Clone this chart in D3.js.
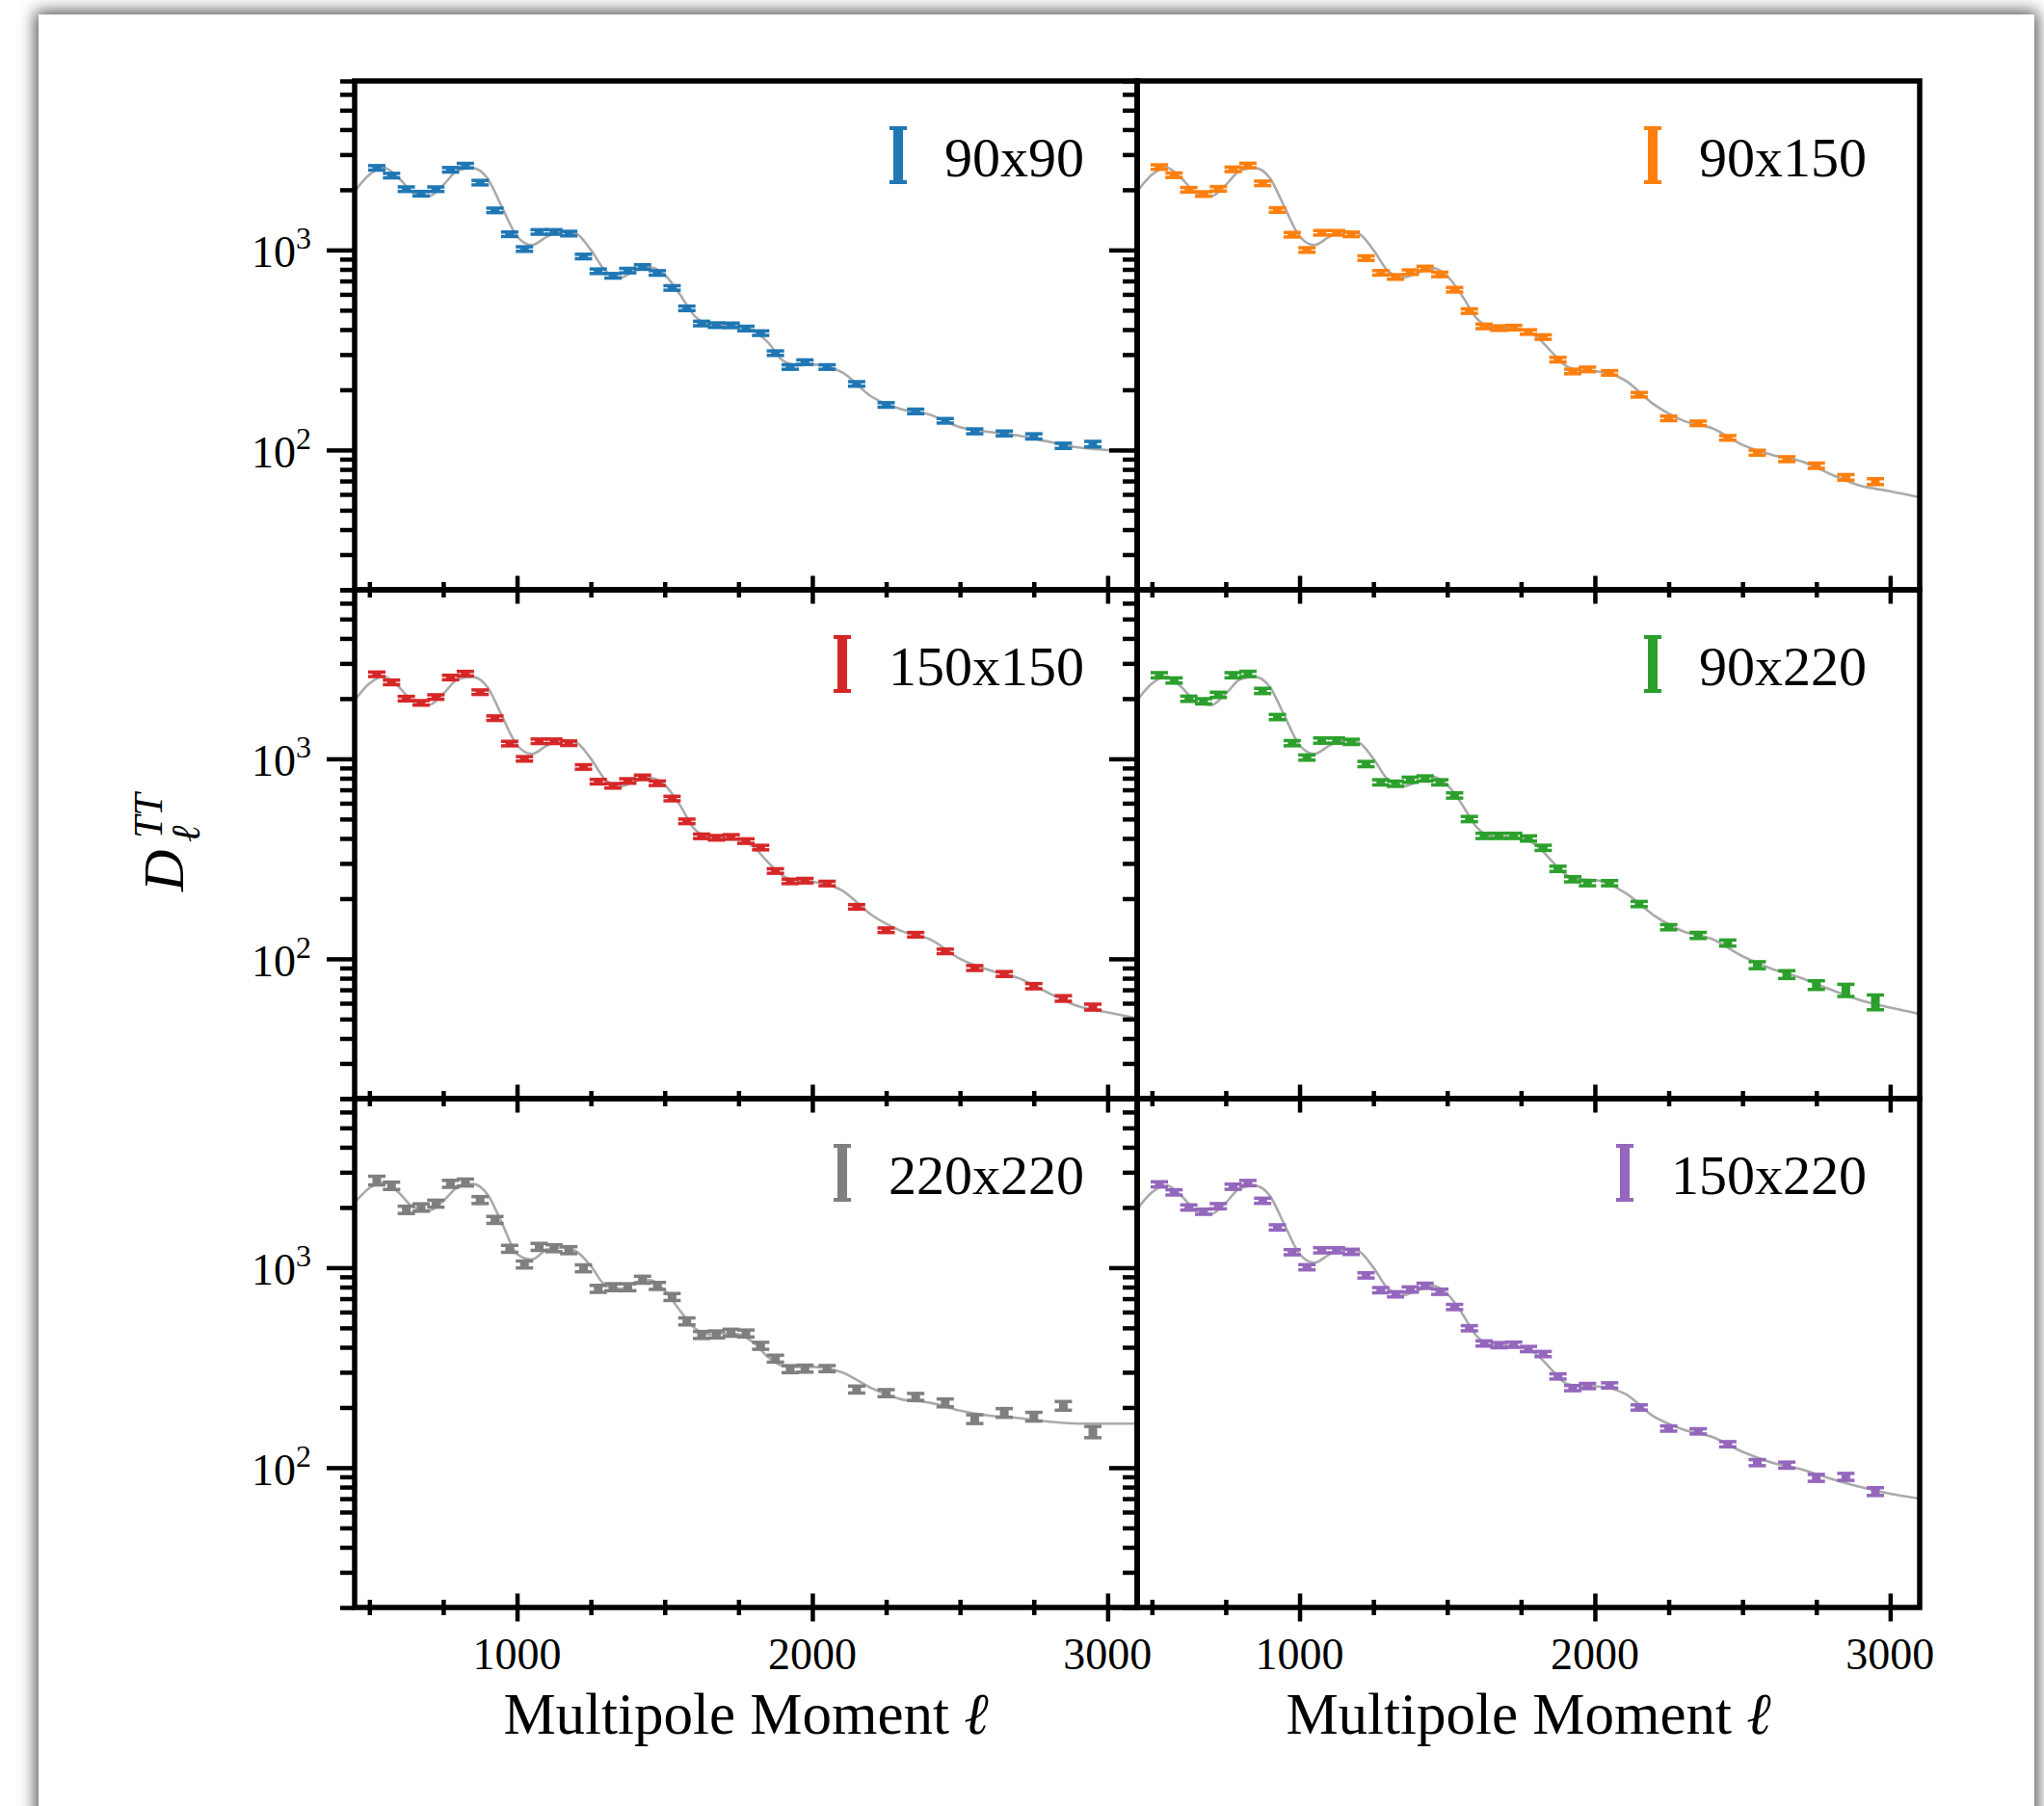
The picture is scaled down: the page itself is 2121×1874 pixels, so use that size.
<!DOCTYPE html>
<meta charset="utf-8" />
<script src="https://d3js.org/d3.v7.min.js"></script>

<body style="margin:0;background:#fff;overflow:hidden">

<div id="card" style="position:absolute;left:40px;top:15px;width:2071px;height:1950px;background:#fff;box-shadow:0 0 16px 3px rgba(0,0,0,.7)"></div>
<svg id="chart" width="2121" height="1874" style="position:absolute;left:0;top:0"></svg>

<script>
/* ── DATA ── */
const labels  = ["90x90","90x150","150x150","90x220","220x220","150x220"];
const colours = ["#1f77b4","#ff7f0e","#d62728","#2ca02c","#7f7f7f","#9467bd"];

// bin centres (multipole)
const ell = [525,575,625,675,725,775,825,875,925,975,1025,1075,1125,1175,1225,1275,1325,1375,1425,1475,
             1525,1575,1625,1675,1725,1775,1825,1875,1925,1975,2050,2150,2250,2350,2450,2550,2650,2750,2850,2950];

// band powers D_ell^TT
const d90x90   = [2574,2355,2014,1912,2014,2518,2641,2171,1578,1199,1011,1231,1231,1208,928,783,743,789,822,768,
                  646,511,429,421,420,405,384,305,260,275,260,214,168,156,140,124,121,117,105,107];
const d90x150  = [2598,2366,2000,1905,2022,2531,2647,2154,1585,1192,1000,1219,1219,1197,911,769,733,775,808,755,
                  633,495,415,407,409,389,367,283,247,253,243,189,144,136,115,97,90,83.5,73,69.5];
const d150x150 = [2647,2411,2000,1905,2037,2550,2667,2154,1597,1192,1000,1224,1224,1197,911,769,733,775,808,755,
                  633,487,410,403,407,388,360,275,244,246,238,182,139,132,109,90,84,73,63.4,57.4];
const d90x220  = [2618,2465,1998,1940,2090,2618,2659,2186,1618,1198,1015,1234,1234,1216,942,763,751,786,798,763,
                  656,500,412,412,412,400,359,282,250,239,239,188,144,131,120,93,83.5,74,69.7,60.8];
const d220x220 = [2728,2568,1947,2000,2091,2627,2667,2179,1734,1243,1038,1271,1252,1224,993,784,799,799,871,811,
                  714,539,461,464,473,469,407,351,311,313,313,246,236,226,211,175,188,180,204,151];
const d150x220 = [2610,2380,2000,1905,2030,2540,2650,2160,1590,1195,1005,1222,1222,1200,915,772,736,778,812,758,
                  636,498,418,410,412,392,370,286,250,256,258,200,157,152,131,106,103,89,90,76];

// error bars, percent of band power
const e90x90   = [2.6,2.6,2.6,2.6,2.6,2.6,2.6,2.6,2.6,2.6,2.6,2.6,2.6,2.6,2.6,2.6,2.6,2.6,2.6,2.6,
                  2.6,2.6,2.6,2.6,2.6,2.6,2.6,2.6,2.6,2.6,2.6,2.6,2.6,2.6,2.6,2.8,2.8,3,3,3.2];
const e90x150  = [2.6,2.6,2.6,2.6,2.6,2.6,2.6,2.6,2.6,2.6,2.6,2.6,2.6,2.6,2.6,2.6,2.6,2.6,2.6,2.6,
                  2.6,2.6,2.6,2.6,2.6,2.6,2.6,2.6,2.6,2.6,2.6,2.6,2.6,2.6,2.6,2.8,2.8,3,3.2,3.4];
const e150x150 = [2.6,2.6,2.6,2.6,2.6,2.6,2.6,2.6,2.6,2.6,2.6,2.6,2.6,2.6,2.6,2.6,2.6,2.6,2.6,2.6,
                  2.6,2.6,2.6,2.6,2.6,2.6,2.6,2.6,2.6,2.6,2.6,2.6,2.6,2.6,2.6,2.8,2.8,3,3.2,3.4];
const e90x220  = [3,3,3,3,3,3,3,3,3,3,3,3,3,3,3,3,3,3,3,3,
                  3,3,3,3,3,3,3,3,3,3,3,3,3,3.5,3.5,4,4.5,5,7,8.5];
const e220x220 = [5,4.2,4.2,4.2,4,4,4,4,4,4,4,4,4,4,4,4,4,4,4,4,
                  4,4,4,4,4,4,4,4,4,4,3.5,4,4,4,4.5,5,5,5,5,6.5];
const e150x220 = [3,3,3,3,3,3,3,3,3,3,3,3,3,3,3,3,3,3,3,3,
                  3,3,3,3,3,3,3,3,3,3,3,3,3,3,3,3.5,3.5,4,4,4.5];

// theory curve knots
const modelEll = [450,500,550,600,650,700,750,800,850,900,950,1000,1050,1100,1150,1200,1250,1300,1350,
                  1400,1450,1500,1550,1600,1650,1700,1750,1800,1850,1900,1950,2000,
                  2100,2200,2300,2400,2500,2600,2700,2800,2900,3000,3100];
const modelLow  = [1962,2380,2580,2280,1925,1854,2114,2500,2569,2280,1626,1170,1058,1161,1238,1206,1000,784,728];
const m90x90    = [790,820,750,605,470,425,420,413,395,345,280,265,268,245,185,160,150,130,123,118,110,103,100,98];
const m90x150   = [769,814,741,592,455,410,407,400,371,313,265,250,248,224,169,140,128,106,94.5,87.7,75.5,66.2,62.2,58];
const m150x150  = [775,805,741,592,447,407,404,395,364,304,260,246,243,220,166,138,125,100,87.7,79.9,67.5,58,54,50.4];
const m90x220   = [769,814,741,592,455,410,407,400,371,313,265,250,248,215,165,137,125,103,89,80,70,62,57,53];
const m220x220  = [2110,2500,2667,2366,2000,1925,2154,2531,2627,2321,1658,1170,1098,1229,1261,1206,1019,814,784,
                   845,867,769,615,500,464,470,464,423,357,323,319,319,300,250,220,211,193,182,177,170,166,166,166];
const m150x220  = [769,814,741,592,455,410,407,400,371,313,265,255,255,235,180,155,142,120,106,98,88,80,74,70];

const xMajor = [1000,2000,3000];
const xMinor = [500,750,1250,1500,1750,2250,2500,2750];
const yMajor = [100,1000];
const yMajorLab = ["2","3"];
const yMinor = [20,30,40,50,60,70,80,90,200,300,400,500,600,700,800,900,2000,3000,4000,5000,6000,7000];

const panels = [
  {d:d90x90,   e:e90x90,   m:modelLow.concat(m90x90)},
  {d:d90x150,  e:e90x150,  m:modelLow.concat(m90x150)},
  {d:d150x150, e:e150x150, m:modelLow.concat(m150x150)},
  {d:d90x220,  e:e90x220,  m:modelLow.concat(m90x220)},
  {d:d220x220, e:e220x220, m:m220x220},
  {d:d150x220, e:e150x220, m:modelLow.concat(m150x220)}
];

/* ── LAYOUT ── */
const FONT = "'Liberation Serif','DejaVu Serif',serif";
const colX = [368, 1180], rowY = [84, 612, 1140], pw = 812, ph = 528;

const x = d3.scaleLinear().domain([450, 3100]).range([0, pw]);
const y = d3.scaleLog().domain([20, 7000]).range([ph, 0]);

const svg = d3.select("#chart").style("font-family", FONT);
const defs = svg.append("defs");
defs.append("clipPath").attr("id","clip").append("rect").attr("width",pw).attr("height",ph);

const line = d3.line().x(d=>x(d[0])).y(d=>y(d[1])).curve(d3.curveMonotoneX);

panels.forEach((p,i)=>{
  const col = i%2, row = Math.floor(i/2);
  const g = svg.append("g").attr("transform",`translate(${colX[col]},${rowY[row]})`);
  const c = colours[i];

  /* y ticks (out) */
  const ya = g.append("g");
  ya.append("g").call(d3.axisLeft(y).tickValues(yMinor).tickSize(15).tickFormat(""));
  ya.append("g").call(d3.axisLeft(y).tickValues(yMajor).tickSize(29).tickFormat(""));
  ya.selectAll(".domain").remove();
  ya.selectAll("line").attr("stroke","#000").attr("stroke-width",4.5);

  /* x ticks (inout) */
  const xa = g.append("g").attr("transform",`translate(0,${ph})`);
  xa.append("g").call(d3.axisBottom(x).tickValues(xMinor).tickSizeOuter(0).tickFormat(""))
    .selectAll(".tick line").attr("y1",-8).attr("y2",8);
  xa.append("g").call(d3.axisBottom(x).tickValues(xMajor).tickSizeOuter(0).tickFormat(""))
    .selectAll(".tick line").attr("y1",-14.5).attr("y2",14.5);
  xa.selectAll(".domain").remove();
  xa.selectAll("line").attr("stroke","#000").attr("stroke-width",4.5);

  /* y labels (left column) */
  if(col===0){
    yMajor.forEach((v,k)=>{
      const t = g.append("text").attr("x",-45).attr("y",y(v)+18)
        .attr("text-anchor","end").attr("font-size",46).text("10");
      t.append("tspan").attr("dy",-19).attr("font-size",32).text(yMajorLab[k]);
    });
  }
  /* x labels (bottom row) */
  if(row===2){
    xMajor.forEach(v=>{
      g.append("text").attr("x",x(v)).attr("y",ph+64).attr("text-anchor","middle")
        .attr("font-size",46).text(v);
    });
    g.append("text").attr("x",pw/2).attr("y",ph+131).attr("text-anchor","middle")
      .attr("font-size",61).text("Multipole Moment ")
      .append("tspan").attr("font-style","italic").text("ℓ");
  }

  /* theory curve */
  const plot = g.append("g").attr("clip-path","url(#clip)");
  plot.append("path").datum(modelEll.map((l,k)=>[l,p.m[k]]))
    .attr("d",line).attr("fill","none").attr("stroke","#aaaaaa").attr("stroke-width",2.6);

  /* error bars */
  const pts = ell.map((l,k)=>({l, v:p.d[k], e:p.d[k]*p.e[k]/100}));
  const eb = plot.selectAll("g.eb").data(pts).join("g").attr("class","eb");
  eb.append("line")
    .attr("x1",d=>x(d.l)).attr("x2",d=>x(d.l))
    .attr("y1",d=>y(d.v-d.e)).attr("y2",d=>y(d.v+d.e))
    .attr("stroke",c).attr("stroke-width",9);
  [-1,1].forEach(s=>{
    eb.append("line")
      .attr("x1",d=>x(d.l)-9).attr("x2",d=>x(d.l)+9)
      .attr("y1",d=>y(d.v+s*d.e)).attr("y2",d=>y(d.v+s*d.e))
      .attr("stroke",c).attr("stroke-width",3.5);
  });

  /* legend */
  const lt = g.append("text").attr("x",pw-55).attr("y",99).attr("text-anchor","end")
    .attr("font-size",58).text(labels[i]);
  const lx = pw-55-lt.node().getComputedTextLength()-48;
  const lg = g.append("g").attr("stroke",c);
  lg.append("line").attr("x1",lx).attr("x2",lx).attr("y1",47).attr("y2",107).attr("stroke-width",10);
  lg.append("line").attr("x1",lx-9).attr("x2",lx+9).attr("y1",49).attr("y2",49).attr("stroke-width",4);
  lg.append("line").attr("x1",lx-9).attr("x2",lx+9).attr("y1",105).attr("y2",105).attr("stroke-width",4);
});

/* frames on top */
panels.forEach((p,i)=>{
  const col = i%2, row = Math.floor(i/2);
  svg.append("rect").attr("x",colX[col]).attr("y",rowY[row]).attr("width",pw).attr("height",ph)
    .attr("fill","none").attr("stroke","#000").attr("stroke-width",5.5);
});

/* y axis label D_ell^TT */
const yl = svg.append("g").attr("transform","translate(190,876) rotate(-90)");
yl.append("text").attr("x",-49).attr("y",0).attr("font-size",60).attr("font-style","italic").text("D");
yl.append("text").attr("x",6).attr("y",-22).attr("font-size",42).attr("font-style","italic").text("TT");
yl.append("text").attr("x",2).attr("y",17).attr("font-size",42).attr("font-style","italic").text("ℓ");
</script>
</body>
